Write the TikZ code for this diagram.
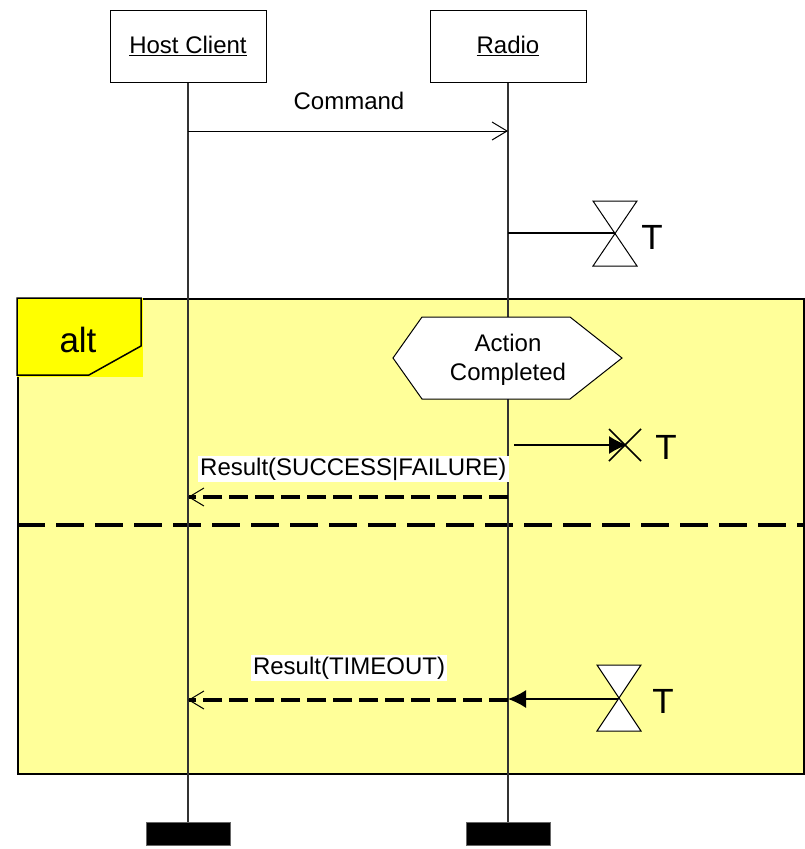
\documentclass[tikz,border=0pt]{standalone}
\usepackage{fontspec}
\setmainfont{Liberation Sans}
\usetikzlibrary{arrows.meta}
\definecolor{frameyellow}{HTML}{FFFF99}
\definecolor{tagyellow}{HTML}{FFFF00}
\definecolor{lifegray}{HTML}{333333}
\tikzset{
  txt/.style={font=\fontsize{24}{28}\selectfont, inner sep=1pt},
  bigtxt/.style={font=\fontsize{35}{38}\selectfont, inner sep=0pt},
  hdr/.style={draw, line width=1pt, fill=white, minimum width=156pt, minimum height=72pt, inner sep=0pt, font=\fontsize{24}{28}\selectfont},
  life/.style={draw=lifegray, line width=1.2pt},
  term/.style={fill=black, draw=black!60, line width=0.5pt, minimum width=84pt, minimum height=23pt, inner sep=0pt},
  openhead/.style={-{Straight Barb[length=15pt,width=18pt,line width=1pt]}},
  msg/.style={line width=1pt, openhead},
  reply/.style={line width=3.6pt, dash pattern=on 19pt off 7pt, openhead},
  filledhead/.style={line width=1.5pt, -{Latex[length=18pt,width=18pt]}},
  timerline/.style={line width=1.5pt},
  hourglass/.style={draw, fill=white, line width=1pt},
  divider/.style={line width=3.4pt, dash pattern=on 28pt off 11pt},
  lbl/.style={txt, fill=white, inner sep=2pt},
}
\begin{document}
\begin{tikzpicture}[x=1pt,y=-1pt]
\useasboundingbox (0,0) rectangle (804,849);

% alt frame
\node[draw, line width=1.5pt, fill=frameyellow, minimum width=786pt, minimum height=475pt, inner sep=0pt, anchor=north west] (altframe) at (17,298) {};
\fill[tagyellow] (17,298) rectangle (143,377);
\draw[line width=1.5pt] (17,298) -- (141,298) -- (141,346) -- (89,375) -- (17,375) -- cycle;
\node[bigtxt] (alttag) at (78,340) {alt};

% divider
\coordinate (divL) at (17,525);
\coordinate (divR) at (804,525);
\draw[divider] (divL) -- (divR);

% headers and lifelines
\node[hdr] (host) at (188,46) {\underline{Host Client}};
\node[hdr] (radio) at (508,46) {\underline{Radio}};
\node[term] (hostterm) at (188,833.5) {};
\node[term] (radioterm) at (508,833.5) {};
\draw[life] (host.south) -- (hostterm.north);
\draw[life] (radio.south) -- (radioterm.north);

% Command
\coordinate (cmdA) at (188,131);
\coordinate (cmdB) at (508,131);
\draw[msg] (cmdA) -- (cmdB);
\node[txt] (cmdlbl) at (349,101) {Command};

% timer start
\coordinate (t1src) at (508,233);
\coordinate (t1) at (615,233);
\draw[timerline] (t1src) -- (t1);
\draw[hourglass] (593,201) -- (637,201) -- (593,266) -- (637,266) -- cycle;
\node[bigtxt] (t1lbl) at (652,237) {T};

% Action Completed hexagon
\filldraw[line width=1pt, fill=white] (393,358) -- (422,317) -- (570,317) -- (622,358) -- (570,399) -- (422,399) -- cycle;
\node[txt, align=center, font=\fontsize{24}{29}\selectfont] (action) at (508,360) {Action\\Completed};

% timer stop
\coordinate (t2src) at (514,445);
\coordinate (t2) at (627,445);
\draw[filledhead] (t2src) -- (t2);
\draw[line width=1.5pt] (609,429) -- (641,461) (609,461) -- (641,429);
\node[bigtxt] (t2lbl) at (666,447) {T};

% Result success/failure
\coordinate (r1A) at (508,497);
\coordinate (r1B) at (188,497);
\draw[reply] (r1A) -- (r1B);
\node[lbl, anchor=west] (r1lbl) at (198,469) {Result(SUCCESS|FAILURE)};

% timeout
\coordinate (t3) at (619,699);
\coordinate (t3dst) at (508,699);
\draw[filledhead] (t3) -- (t3dst);
\draw[hourglass] (597,665) -- (641,665) -- (597,731) -- (641,731) -- cycle;
\node[bigtxt] (t3lbl) at (663,701) {T};

\coordinate (r2A) at (508,700);
\coordinate (r2B) at (188,700);
\draw[reply] (r2A) -- (r2B);
\node[lbl] (r2lbl) at (349,668) {Result(TIMEOUT)};
\end{tikzpicture}
\end{document}
